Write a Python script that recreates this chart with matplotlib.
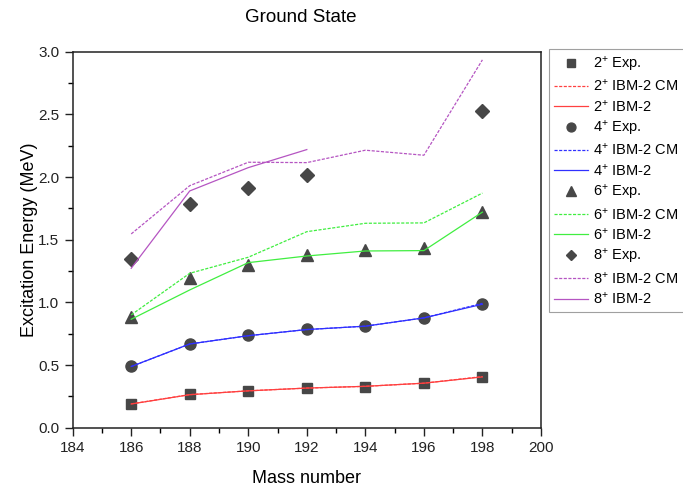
import matplotlib
matplotlib.use('Agg')
import matplotlib.pyplot as plt
from matplotlib.ticker import MultipleLocator

plt.rcParams['font.family'] = ['Liberation Sans', 'DejaVu Sans']
plt.rcParams['mathtext.fontset'] = 'custom'
plt.rcParams['mathtext.rm'] = 'Liberation Sans'
plt.rcParams['mathtext.it'] = 'Liberation Sans:italic'
plt.rcParams['mathtext.bf'] = 'Liberation Sans:bold'

# mass numbers (Pt isotopes)
mass = [186, 188, 190, 192, 194, 196, 198]
mass_8ibm = [186, 188, 190, 192]

# experimental levels (MeV)
exp_2 = [0.192, 0.266, 0.296, 0.317, 0.328, 0.356, 0.407]
exp_4 = [0.490, 0.671, 0.737, 0.785, 0.811, 0.877, 0.985]
exp_6 = [0.880, 1.195, 1.298, 1.375, 1.415, 1.435, 1.720]
exp_8 = [1.344, 1.788, 1.915, 2.020, None, None, 2.527]

# IBM-2 with configuration mixing
cm_2 = [0.190, 0.264, 0.294, 0.316, 0.330, 0.355, 0.408]
cm_4 = [0.488, 0.668, 0.734, 0.783, 0.810, 0.876, 0.992]
cm_6 = [0.900, 1.232, 1.360, 1.564, 1.631, 1.634, 1.872]
cm_8 = [1.546, 1.931, 2.118, 2.115, 2.214, 2.174, 2.935]

# IBM-2
ibm_2 = [0.189, 0.263, 0.294, 0.316, 0.330, 0.355, 0.405]
ibm_4 = [0.488, 0.668, 0.734, 0.783, 0.810, 0.876, 0.985]
ibm_6 = [0.865, 1.099, 1.317, 1.370, 1.410, 1.413, 1.720]
ibm_8 = [1.272, 1.889, 2.075, 2.219]

mk_col = '#474747'
red, blue, green, purple = '#ff4040', '#3030ff', '#40ee40', '#b555c2'

fig = plt.figure(figsize=(6.83, 4.86), dpi=100)
ax = fig.add_axes([0.1064, 0.12, 0.6856, 0.7736])

def exp_pts(y):
    xs = [m for m, v in zip(mass, y) if v is not None]
    ys = [v for v in y if v is not None]
    return xs, ys

sets = [('2', exp_2, cm_2, mass, ibm_2, red, 's', 7),
        ('4', exp_4, cm_4, mass, ibm_4, blue, 'o', 8),
        ('6', exp_6, cm_6, mass, ibm_6, green, '^', 9),
        ('8', exp_8, cm_8, mass_8ibm, ibm_8, purple, 'D', 7)]

for j, exp, cm, m_ibm, ibm, col, mk, ms in sets:
    xs, ys = exp_pts(exp)
    ax.plot(xs, ys, ls='none', marker=mk, ms=ms, color=mk_col, mec=mk_col,
            label=r'%s$^{+}$ Exp.' % j, zorder=2)
    ax.plot(mass, cm, ls=(0, (2.5, 1.2)), lw=0.9, color=col,
            label=r'%s$^{+}$ IBM-2 CM' % j, zorder=3)
    ax.plot(m_ibm, ibm, ls='-', lw=0.9, color=col,
            label=r'%s$^{+}$ IBM-2' % j, zorder=3)

ax.set_xlim(184, 200)
ax.set_ylim(0, 3.0)
ax.xaxis.set_major_locator(MultipleLocator(2))
ax.xaxis.set_minor_locator(MultipleLocator(1))
ax.yaxis.set_major_locator(MultipleLocator(0.5))
ax.yaxis.set_minor_locator(MultipleLocator(0.25))
ax.yaxis.set_major_formatter(matplotlib.ticker.FormatStrFormatter('%.1f'))
ax.tick_params(which='major', direction='out', length=6, width=1.0, labelsize=11, colors='#222222')
ax.tick_params(which='minor', direction='out', length=3.5, width=1.0)
for s in ax.spines.values():
    s.set_linewidth(1.1)
    s.set_color('#222222')

ax.set_xlabel('Mass number', fontsize=13, labelpad=11)
ax.set_ylabel('Excitation Energy (MeV)', fontsize=13, labelpad=0)
fig.text(0.44, 0.965, 'Ground State', fontsize=13.5, ha='center', va='center')

leg = ax.legend(loc='upper left', bbox_to_anchor=(1.017, 1.006), fontsize=10.5,
                frameon=True, fancybox=False, edgecolor='#888888',
                markerscale=0.8, handlelength=2.35, handletextpad=0.35,
                labelspacing=0.3, borderpad=0.35, borderaxespad=0)
leg.get_frame().set_linewidth(0.8)

fig.savefig('out.png', dpi=100)
